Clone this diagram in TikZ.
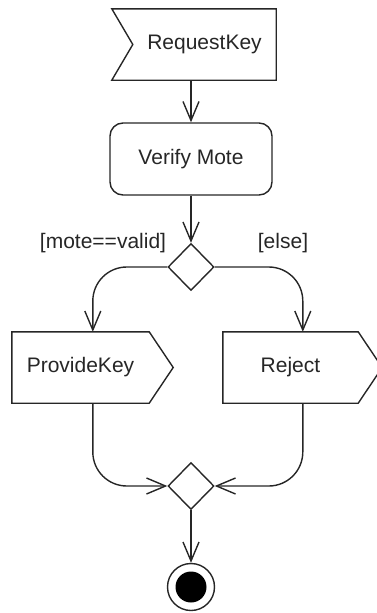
\documentclass[tikz,border=0pt]{standalone}
\usepackage{fontspec}
\setmainfont{Liberation Sans}
\usetikzlibrary{arrows.meta,shapes.geometric,calc}
\begin{document}
\begin{tikzpicture}[x=1pt,y=-1pt,
  every node/.style={font=\fontsize{21}{25}\selectfont, text=black!85},
  ln/.style={line width=1.4pt, draw=black!85},
  arr/.style={ln, -{Straight Barb[length=19pt,width=16pt,line width=1.4pt]}},
  boxarea/.style={draw=none, inner sep=0pt},
  dia/.style={diamond, ln, inner sep=0pt, minimum width=46pt, minimum height=47pt},
]
\useasboundingbox (0,0) rectangle (376,613);
% RequestKey (accept event)
\node[boxarea, minimum width=143pt, minimum height=71pt] (rk) at (204.5,44.5) {RequestKey};
\draw[ln] ($(rk.north west)+(-21,0)$) -- (rk.north east) -- (rk.south east) -- ($(rk.south west)+(-21,0)$) -- (rk.west) -- cycle;
% Verify Mote
\node[ln, rounded corners=13pt, minimum width=162pt, minimum height=72pt, inner sep=0pt] (vm) at (191,159) {Verify Mote};
% decision
\node[dia] (dec) at (191,267) {};
% ProvideKey (send signal)
\node[boxarea, minimum width=137pt, minimum height=71pt] (pk) at (80.5,367.5) {ProvideKey};
\draw[ln] (pk.north west) -- (pk.north east) -- ($(pk.east)+(24,0)$) -- (pk.south east) -- (pk.south west) -- cycle;
% Reject (send signal)
\node[boxarea, minimum width=135pt, minimum height=71pt] (rj) at (290.5,367.5) {Reject};
\draw[ln] (rj.north west) -- (rj.north east) -- ($(rj.east)+(24,0)$) -- (rj.south east) -- (rj.south west) -- cycle;
% merge
\node[dia] (mg) at (191,486) {};
% final
\node[circle, ln, minimum size=47pt, inner sep=0pt] (fin) at (191,587) {};
\node[circle, fill=black, minimum size=31pt, inner sep=0pt] (findot) at (fin.center) {};
% guards
\node (g1) at (103,243) {[mote==valid]};
\node (g2) at (283,243) {[else]};
% connectors
\coordinate (pkin) at ($(pk.north west)+(81,0)$);
\coordinate (pkout) at ($(pk.south west)+(81,0)$);
\coordinate (rjin) at ($(rj.north west)+(80,0)$);
\coordinate (rjout) at ($(rj.south west)+(80,0)$);
\draw[arr] (rk.south -| vm.north) -- (vm.north);
\draw[arr] (vm.south) -- (dec.north);
\draw[arr, rounded corners=34pt] (dec.west) -| (pkin);
\draw[arr, rounded corners=34pt] (dec.east) -| (rjin);
\draw[arr, rounded corners=34pt] (pkout) |- (mg.west);
\draw[arr, rounded corners=34pt] (rjout) |- (mg.east);
\draw[arr] (mg.south) -- (fin.north);
\end{tikzpicture}
\end{document}
